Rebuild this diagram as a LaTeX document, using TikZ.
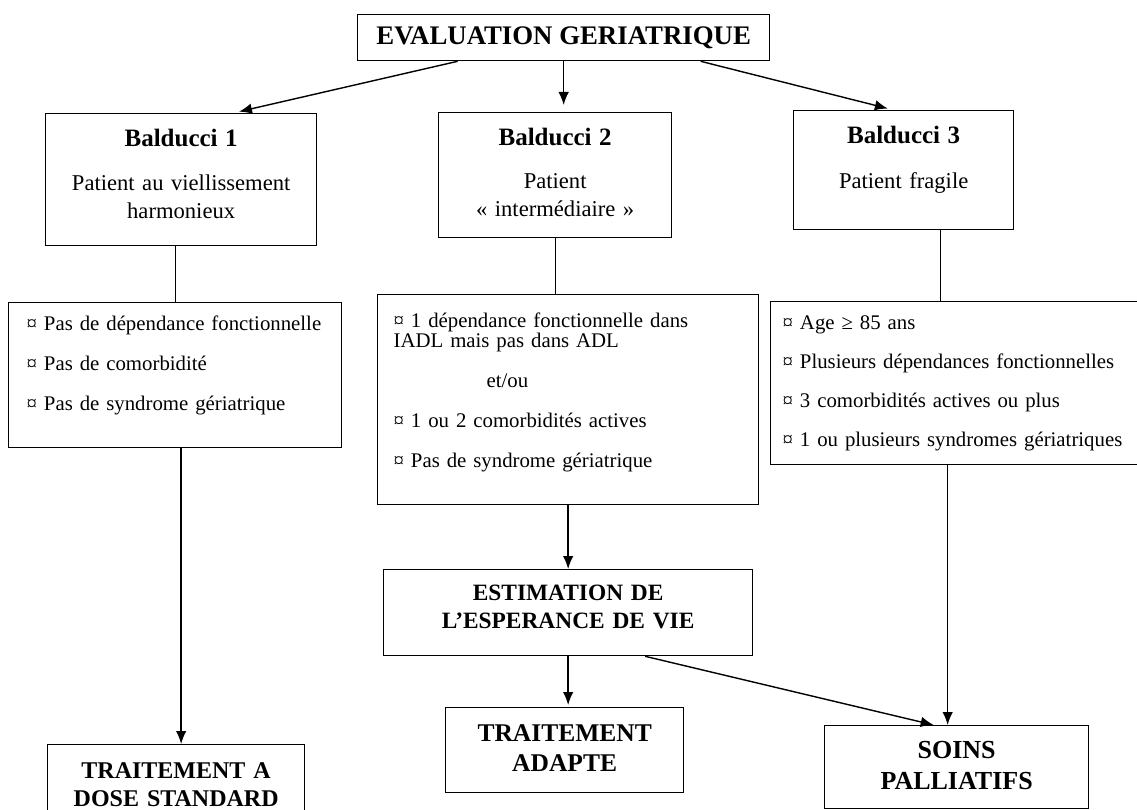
\documentclass[tikz,border=0pt]{standalone}
\usepackage{fontspec}
\setmainfont{Liberation Serif}
\usetikzlibrary{arrows.meta}

\begin{document}
\begin{tikzpicture}[x=1pt, y=-1pt]

\tikzset{box/.style = {draw, line width=1.3pt, inner sep=0pt, anchor=north west}}
\tikzset{head/.style = {font=\fontsize{26.8}{28}\selectfont\bfseries}}
\tikzset{cat/.style = {box, align=center, font=\fontsize{22.6}{28}\selectfont}}
\tikzset{list/.style = {box, align=left, inner xsep=12pt, font=\fontsize{20.8}{20}\selectfont}}
\tikzset{decision/.style = {box, align=center, font=\fontsize{25}{28}\selectfont\bfseries}}
\tikzset{edge/.style = {->, > = {Latex[length=13pt,width=10.5pt]}, line width=1.4pt}}

\useasboundingbox (0,0) rectangle (1137,810);

%boxes
\node[box, head, minimum width=412pt, minimum height=46pt] (eval) at (357,14) {EVALUATION GERIATRIQUE};

\node[cat, text width=271pt, text height=33pt, text depth=99pt] (b1) at (45,113) {{\fontsize{25}{28}\selectfont\bfseries Balducci 1}\\[16pt] Patient au viellissement\\ harmonieux};
\node[cat, text width=233pt, text height=33pt, text depth=92pt] (b2) at (438,112) {{\fontsize{25}{28}\selectfont\bfseries Balducci 2}\\[15pt] Patient\\ « intermédiaire »};
\node[cat, text width=220pt, text height=33pt, text depth=86pt] (b3) at (793,110) {{\fontsize{25}{28}\selectfont\bfseries Balducci 3}\\[17pt] Patient fragile};

\node[list, inner xsep=18pt, text width=297pt, text height=28pt, text depth=117pt] (c1) at (8,302) {¤ Pas de dépendance fonctionnelle\\[20pt] ¤ Pas de comorbidité\\[20pt] ¤ Pas de syndrome gériatrique};
\node[list, inner xsep=16pt, text width=349pt, text height=33pt, text depth=177pt] (c2) at (377,294) {¤ 1 dépendance fonctionnelle dans\\ IADL mais pas dans ADL\\[20pt] \hspace*{93pt}et/ou\\[20pt] ¤ 1 ou 2 comorbidités actives\\[20pt] ¤ Pas de syndrome gériatrique};
\node[list, text width=346pt, text height=28pt, text depth=135pt] (c3) at (770,301) {¤ Age ≥ 85 ans\\[19pt] ¤ Plusieurs dépendances fonctionnelles\\[19pt] ¤ 3 comorbidités actives ou plus\\[19pt] ¤ 1 ou plusieurs syndromes gériatriques};

\node[decision, font=\fontsize{23.4}{28}\selectfont\bfseries, text width=369pt, text height=31pt, text depth=55pt] (est) at (383,569) {ESTIMATION DE\\ L’ESPERANCE DE VIE};
\node[decision, font=\fontsize{25.5}{30}\selectfont\bfseries, text width=238pt, text height=34pt, text depth=51pt] (adapte) at (445,707) {TRAITEMENT\\ ADAPTE};
\node[decision, font=\fontsize{24}{28}\selectfont\bfseries, text width=257pt, text height=34pt, text depth=45pt] (dose) at (47,744) {TRAITEMENT A\\ DOSE STANDARD};
\node[decision, font=\fontsize{26}{31}\selectfont\bfseries, text width=264pt, text height=33pt, text depth=50pt] (soins) at (824,725) {SOINS\\ PALLIATIFS};

%edges
\draw [edge, shorten >=6pt] ([xshift=-106pt]eval.south) -- ([xshift=52pt]b1.north);
\draw [edge, shorten >=7pt] (eval.south) -- (eval.south |- b2.north);
\draw [edge, shorten >=6pt] ([xshift=137pt]eval.south) -- ([xshift=-10pt]b3.north);
\draw [line width=1.3pt] (c1.north |- b1.south) -- (c1.north);
\draw [line width=1.3pt] (b2.south) -- (b2.south |- c2.north);
\draw [line width=1.3pt] ([xshift=37pt]b3.south) -- ([xshift=37pt]b3.south |- c3.north);
\draw [edge] ([xshift=6pt]c1.south) -- ([xshift=6pt]c1.south |- dose.north);
\draw [edge] (c2.south) -- (est.north);
\draw [edge, shorten >=2pt] (est.south) -- (est.south |- adapte.north);
\draw [edge] ([xshift=77pt]est.south) -- ([xshift=-23pt]soins.north);
\draw [edge] ([xshift=-9pt]soins.north |- c3.south) -- ([xshift=-9pt]soins.north);

\end{tikzpicture}
\end{document}
